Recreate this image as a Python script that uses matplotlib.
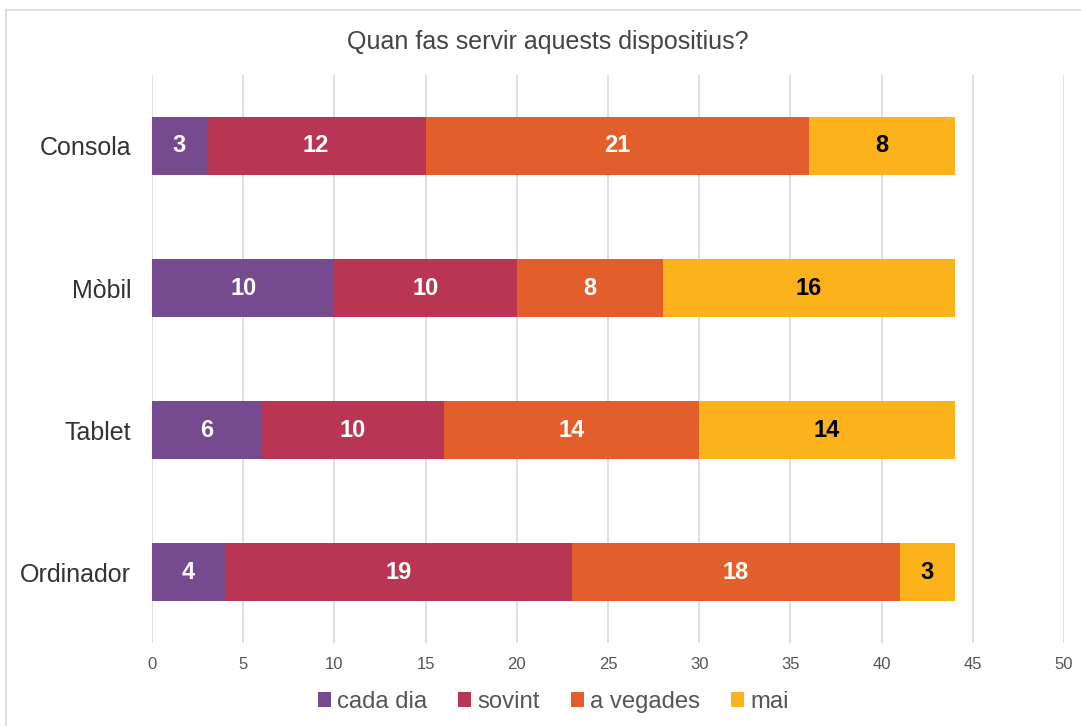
import matplotlib.pyplot as plt
import numpy as np
from matplotlib.lines import Line2D

plt.rcParams["font.family"] = ["Liberation Sans", "DejaVu Sans"]

# Dades
devices = ["Consola", "Mòbil", "Tablet", "Ordinador"]
series_names = ["cada dia", "sovint", "a vegades", "mai"]
cada_dia = [3, 10, 6, 4]
sovint = [12, 10, 10, 19]
a_vegades = [21, 8, 14, 18]
mai = [8, 16, 14, 3]
x_ticks = [0, 5, 10, 15, 20, 25, 30, 35, 40, 45, 50]

colors = ["#754a8f", "#b83553", "#e25f2b", "#fbb21b"]
text_colors = ["white", "white", "white", "black"]

fig = plt.figure(figsize=(10.81, 7.26), dpi=100)
ax = fig.add_axes([0.1406, 0.1143, 0.8437, 0.7824])

# marc exterior
fig.add_artist(Line2D([0.006, 0.006], [0.0, 0.986], color="#d9d9d9", lw=1.2, transform=fig.transFigure))
fig.add_artist(Line2D([0.006, 1.0], [0.986, 0.986], color="#d9d9d9", lw=1.2, transform=fig.transFigure))

y = np.arange(len(devices))
left = np.zeros(len(devices))
for vals, name, col, tcol in zip([cada_dia, sovint, a_vegades, mai], series_names, colors, text_colors):
    vals = np.array(vals)
    ax.barh(y, vals, left=left, height=0.41, color=col, label=name, zorder=3)
    for yi, l, v in zip(y, left, vals):
        ax.text(l + v / 2, yi, str(v), ha="center", va="center", color=tcol,
                fontsize=17, fontweight="bold", zorder=4)
    left = left + vals

ax.set_ylim(len(devices) - 0.5, -0.5)
ax.set_xlim(0, 50)
ax.set_yticks(y)
ax.set_yticklabels(devices, fontsize=18, color="#333333")
ax.set_xticks(x_ticks)
ax.set_xticklabels([str(t) for t in x_ticks], fontsize=12, color="#555555")
ax.tick_params(axis="y", length=0, pad=15)
ax.tick_params(axis="x", length=0, pad=10)
ax.grid(axis="x", color="#d9d9d9", lw=1.2, zorder=0)
for s in ax.spines.values():
    s.set_visible(False)

fig.text(0.507, 0.942, "Quan fas servir aquests dispositius?", ha="center", va="center",
         fontsize=18, color="#444444")

ax.legend(loc="center", bbox_to_anchor=(0.44, -0.104), ncol=4, frameon=False,
          fontsize=17.2, handlelength=0.55, handleheight=0.55, handletextpad=0.25,
          columnspacing=1.3, labelcolor="#555555")

fig.savefig("out.png", dpi=100)
